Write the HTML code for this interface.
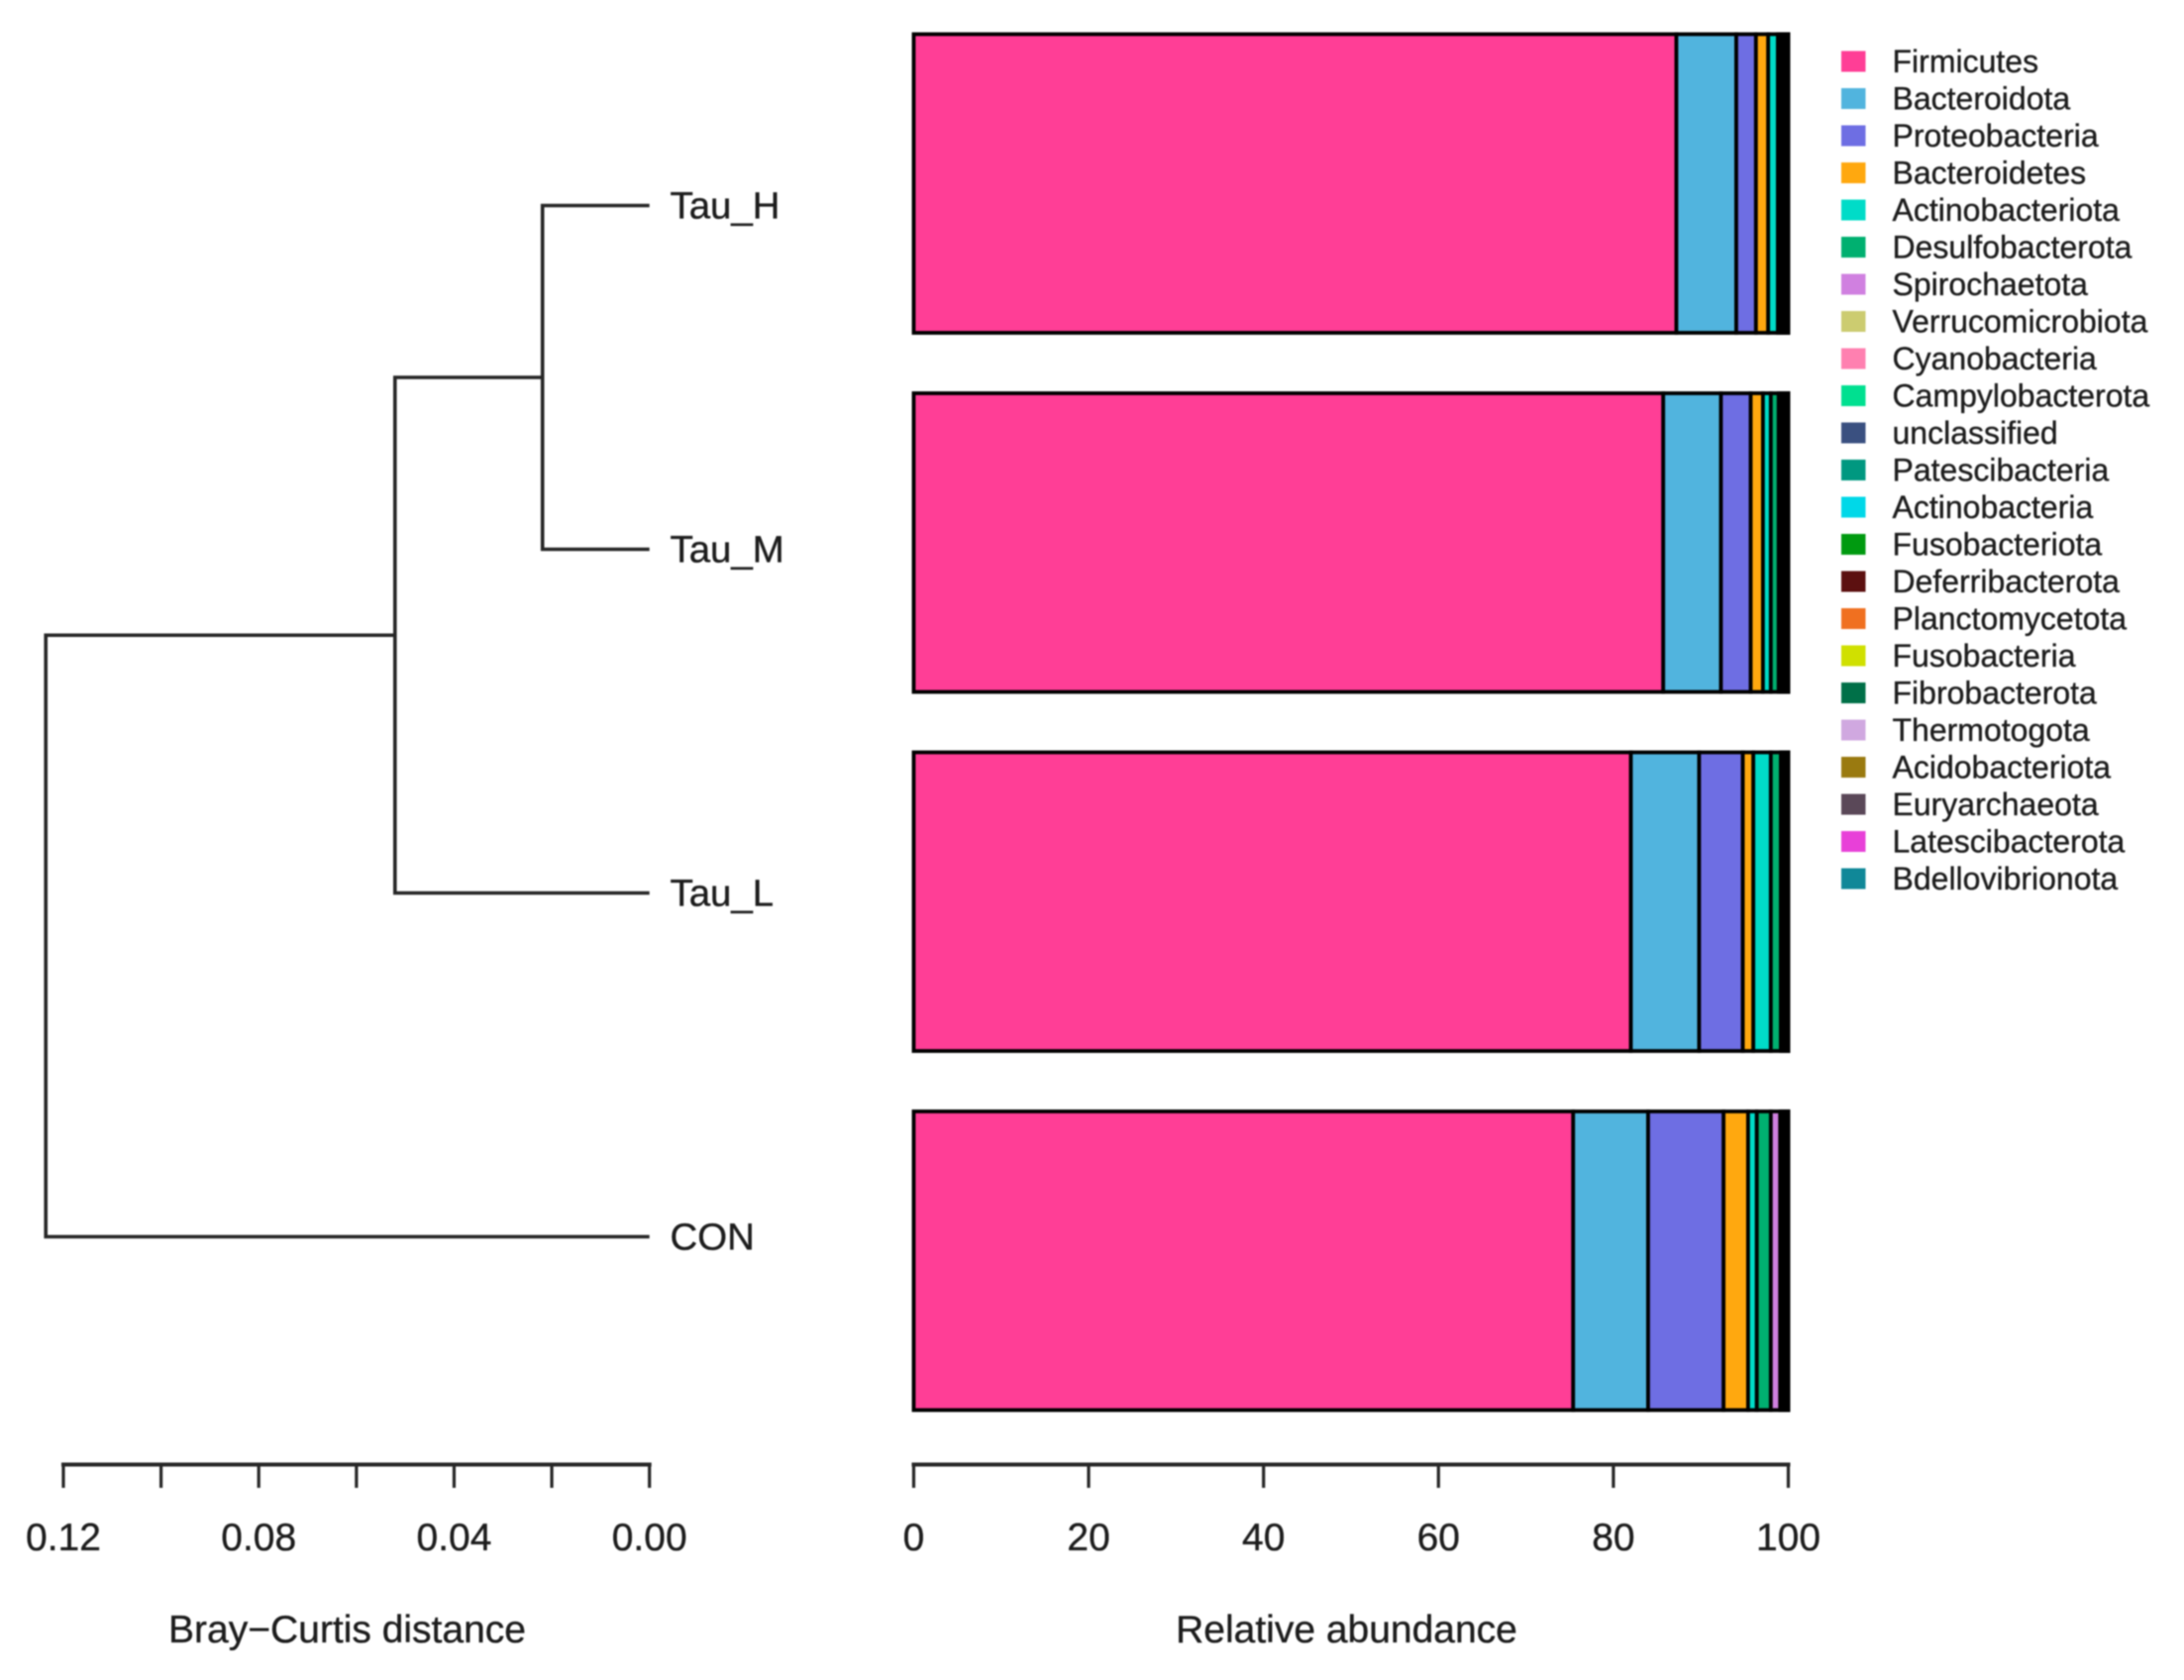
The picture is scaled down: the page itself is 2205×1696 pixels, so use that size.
<!DOCTYPE html>
<html lang="en">
<head>
<meta charset="utf-8">
<title>Bray-Curtis clustering and relative abundance</title>
<style>
html,body{margin:0;padding:0;background:#fff;}
body{width:2205px;height:1696px;overflow:hidden;}
svg{display:block;filter:blur(0.9px);}
text{font-family:"Liberation Sans",Arial,sans-serif;fill:#1c1c1c;stroke:#1c1c1c;stroke-width:0.35px;}
</style>
</head>
<body>
<svg id="chart" xmlns="http://www.w3.org/2000/svg" width="2205" height="1696" viewBox="0 0 2205 1696"></svg>
<script>
const sampleNames = ["Tau_H", "Tau_M", "Tau_L", "CON"];
const taxaNames = ["Firmicutes","Bacteroidota","Proteobacteria","Bacteroidetes","Actinobacteriota","Desulfobacterota","Spirochaetota","Verrucomicrobiota","Cyanobacteria","Campylobacterota","unclassified","Patescibacteria","Actinobacteria","Fusobacteriota","Deferribacterota","Planctomycetota","Fusobacteria","Fibrobacterota","Thermotogota","Acidobacteriota","Euryarchaeota","Latescibacterota","Bdellovibrionota"];
const taxaColors = ["#FF3E96","#51B4DE","#6E6EE3","#FFA80F","#00DCC8","#00B070","#D080E0","#CCCC70","#FF80B0","#00E090","#3A5080","#009880","#00D8E8","#009A10","#5C1010","#F07020","#D0E000","#007048","#D0A8E0","#9A7A10","#5A4858","#E840D8","#108898"];
const tauHValues = [87.2,6.85,2.25,1.4,1.1,0.3,0.15,0.1,0.1,0.1,0.1,0.08,0.07,0.05,0.05,0.04,0.02,0.02,0.01,0.01,0,0,0];
const tauMValues = [85.7,6.6,3.4,1.4,0.9,0.9,0.2,0.15,0.1,0.1,0.1,0.1,0.08,0.07,0.05,0.05,0.04,0.03,0.01,0.01,0.01,0,0];
const tauLValues = [82.0,7.8,5.0,1.2,2.0,1.15,0.15,0.1,0.1,0.1,0.1,0.08,0.06,0.05,0.04,0.03,0.02,0.01,0.01,0,0,0,0];
const conValues = [75.4,8.57,8.63,2.8,1.0,1.6,1.07,0.2,0.15,0.12,0.1,0.1,0.08,0.06,0.04,0.03,0.02,0.01,0.01,0.01,0,0,0];
const abundanceTicks = [0,20,40,60,80,100];
const distanceTicks = [0.12,0.10,0.08,0.06,0.04,0.02,0.00];
const distanceLabels = ["0.12","","0.08","","0.04","","0.00"];
const innerNodeHeight = 0.0219;
const middleNodeHeight = 0.0521;
const rootNodeHeight = 0.1236;

const svg = document.getElementById('chart');
const NS = 'http://www.w3.org/2000/svg';
const ink = '#262626';

function make(tag, attrs, parent) {
  const n = document.createElementNS(NS, tag);
  for (const k in attrs) n.setAttribute(k, attrs[k]);
  (parent || svg).appendChild(n);
  return n;
}
function xAbundance(v) { return 922.5 + v * 8.83; }
function xDistance(d) { return 655.7 - d * 4931; }
function yBar(i) { return 34.5 + i * 362.5; }
function yLeaf(i) { return 207.5 + i * 347; }
function yLegend(i) { return 62 + i * 37.5; }
const barHeight = 301.5;

/* Dendrogram */
const dendrogram = make('g', {});


function branch(d, name, parent) {
  const p = make('path', { d: d, fill: 'none', stroke: ink, 'stroke-width': 3.6 }, parent);
  
  
}
const xInner = xDistance(innerNodeHeight);
const xMiddle = xDistance(middleNodeHeight);
const xRoot = xDistance(rootNodeHeight);
const xTip = xDistance(0);
const yInner = (yLeaf(0) + yLeaf(1)) / 2;
const yMiddle = (yInner + yLeaf(2)) / 2;
branch(`M${xTip} ${yLeaf(0)}H${xInner}V${yLeaf(1)}H${xTip}`, 'branch-tau-h-tau-m', dendrogram);
branch(`M${xInner} ${yInner}H${xMiddle}V${yLeaf(2)}H${xTip}`, 'branch-tau-l', dendrogram);
branch(`M${xMiddle} ${yMiddle}H${xRoot}V${yLeaf(3)}H${xTip}`, 'branch-con', dendrogram);

sampleNames.forEach(function (name, i) {
  const t = make('text', { x: 676.5, y: yLeaf(i) + 13, 'font-size': 38.4 });
  t.textContent = name;
  
  
});

/* Stacked bars */
const sampleValues = [tauHValues, tauMValues, tauLValues, conValues];
sampleValues.forEach(function (values, s) {
  const g = make('g', {});
  
  
  let cumulative = 0;
  values.forEach(function (v, t) {
    const r = make('rect', {
      x: xAbundance(cumulative),
      y: yBar(s),
      width: xAbundance(cumulative + v) - xAbundance(cumulative),
      height: barHeight,
      fill: taxaColors[t],
      stroke: '#000',
      'stroke-width': 3.8
    }, g);
    
    
    cumulative += v;
  });
});

/* Axes */
const axisY = 1478.5;
const tickEnd = 1502;
function axis(ticks, labels, scale, name) {
  const g = make('g', {});
  
  
  const line = make('line', { x1: scale(ticks[0]), x2: scale(ticks[ticks.length - 1]), y1: axisY, y2: axisY, stroke: ink, 'stroke-width': 4, 'stroke-linecap': 'square' }, g);
  
  
  ticks.forEach(function (v, i) {
    const tick = make('line', { x1: scale(v), x2: scale(v), y1: axisY, y2: tickEnd, stroke: ink, 'stroke-width': 3.2 }, g);
    
    
    if (labels[i] !== '') {
      const t = make('text', { x: scale(v), y: 1565, 'font-size': 39, 'text-anchor': 'middle' }, g);
      t.textContent = labels[i];
      
      
    }
  });
}
axis(distanceTicks, distanceLabels, xDistance, 'distance-axis');
axis(abundanceTicks, abundanceTicks.map(String), xAbundance, 'abundance-axis');

const distanceTitle = make('text', { x: 350.5, y: 1658, 'font-size': 39, 'text-anchor': 'middle' });
distanceTitle.textContent = 'Bray\u2212Curtis distance';



const abundanceTitle = make('text', { x: 1359.5, y: 1658, 'font-size': 39, 'text-anchor': 'middle' });
abundanceTitle.textContent = 'Relative abundance';



/* Legend */
const legend = make('g', {});


taxaNames.forEach(function (name, i) {
  const entry = make('g', {}, legend);
  
  
  const swatch = make('rect', { x: 1859, y: yLegend(i) - 10.5, width: 24.5, height: 21, fill: taxaColors[i] }, entry);
  
  
  const label = make('text', { x: 1910.5, y: yLegend(i) + 11, 'font-size': 32 }, entry);
  label.textContent = name;
  
  
});
</script>
</body>
</html>
